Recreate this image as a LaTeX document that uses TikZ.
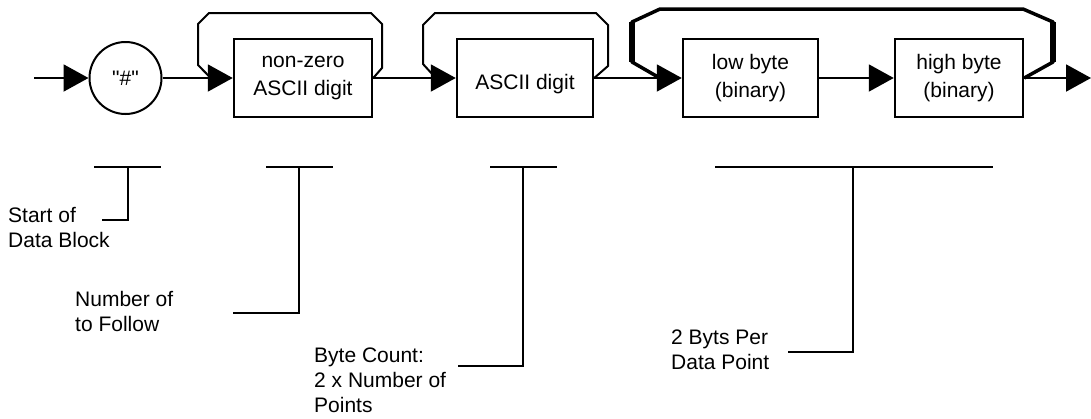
\documentclass[tikz,border=0pt]{standalone}
\usepackage{fontspec}
\setmainfont{Liberation Sans}
\usetikzlibrary{arrows.meta}
\tikzset{
  sdbox/.style={
    draw,
    line width=2.5pt,
    inner sep=0pt,
    minimum height=78pt,
    minimum width=#1,
    align=center,
    font=\fontsize{21}{27.5}\selectfont
  },
  sdbox/.default=136pt,
  sdcircle/.style={circle, draw, line width=2pt, minimum size=72pt, inner sep=0pt,
    font=\fontsize{21}{25}\selectfont},
  sdarrow/.style={-{Triangle[length=25pt, width=27pt]}, line width=2pt},
  sdloop/.style={line width=2pt, line join=miter},
  sdbold/.style={line width=3.5pt, line join=round},
  sdtick/.style={line width=2pt},
  sdnote/.style={anchor=north west, inner sep=0pt, align=left,
    font=\fontsize{21}{25}\selectfont}
}
\begin{document}
\begin{tikzpicture}[x=1pt, y=-1pt]
  \useasboundingbox (0,0) rectangle (1091,418);

  \coordinate (in) at (34,78);
  \node[sdcircle] (hash) at (125.5,78) {\textquotedbl\#\textquotedbl};
  \node[sdbox=138pt] (nzdigit) at (303,78) {non-zero\\ASCII digit};
  \node[sdbox=136pt, text height=22pt, text depth=0pt] (digit) at (525,78) {ASCII digit};
  \node[sdbox=135pt] (lowbyte) at (750.5,78) {low byte\\(binary)};
  \node[sdbox=128pt] (highbyte) at (959,78) {high byte\\(binary)};
  \coordinate (out) at (1091,78);

  \draw[sdloop] (nzdigit.east) -- (382,68) -- (382,24) -- (371,13) -- (209,13)
    -- (198,24) -- (198,65) -- ([xshift=-22pt]nzdigit.west);
  \draw[sdloop] (digit.east) -- (608,66) -- (608,25) -- (596,13) -- (435,13)
    -- (423,25) -- (423,64) -- ([xshift=-20pt]digit.west);
  \draw[sdbold] (highbyte.east) -- (1053,62) -- (1053,22) -- (1023,9) -- (660,9)
    -- (632,22) -- (632,62) -- ([xshift=-22pt]lowbyte.west);
  \draw[line width=6pt] (1053,62) -- (1053,22);
  \draw[line width=6pt] (632,22) -- (632,62);

  \draw[sdarrow] (in) -- (hash);
  \draw[sdarrow] (hash) -- (nzdigit);
  \draw[sdarrow] (nzdigit) -- (digit);
  \draw[sdarrow] (digit) -- (lowbyte);
  \draw[sdarrow] (lowbyte) -- (highbyte);
  \draw[sdarrow] (highbyte) -- (out);

  \coordinate (startbar) at (128,167);
  \coordinate (startfoot) at (102,220);
  \draw[sdtick] (94,167) -- (161,167);
  \draw[sdtick] (startbar) |- (startfoot);
  \node[sdnote] (startnote) at (8,207) {Start of\\Data Block};

  \coordinate (numbar) at (299,167);
  \coordinate (numfoot) at (233,313);
  \draw[sdtick] (266,167) -- (333,167);
  \draw[sdtick] (numbar) |- (numfoot);
  \node[sdnote] (numnote) at (75,291) {Number of\\to Follow};

  \coordinate (countbar) at (523,167);
  \coordinate (countfoot) at (458,366);
  \draw[sdtick] (490,167) -- (557,167);
  \draw[sdtick] (countbar) |- (countfoot);
  \node[sdnote] (countnote) at (314,348) {Byte Count:\\2 x Number of\\Points};

  \coordinate (pointbar) at (853,167);
  \coordinate (pointfoot) at (788,352);
  \draw[sdtick] (715,167) -- (993,167);
  \draw[sdtick] (pointbar) |- (pointfoot);
  \node[sdnote] (pointnote) at (671,330) {2 Byts Per\\Data Point};
\end{tikzpicture}
\end{document}
